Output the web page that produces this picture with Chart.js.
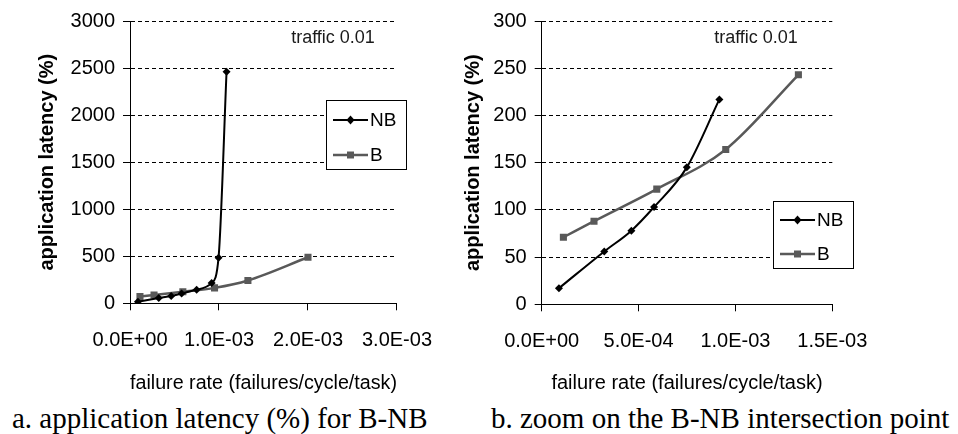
<!DOCTYPE html>
<html>
<head>
<meta charset="utf-8">
<script src="https://cdn.jsdelivr.net/npm/chart.js@4.4.1/dist/chart.umd.min.js"></script>
<style>
  body { margin: 0; background: #fff; width: 958px; height: 434px; overflow: hidden; position: relative; }
  canvas { position: absolute; top: 0; }
  #latencyChart { left: 0; }
  #zoomChart { left: 450px; }
  .caption { position: absolute; top: 404px; font: 29px/29px "Liberation Serif", "Times New Roman", serif; color: #000; white-space: nowrap; }
</style>
</head>
<body>
<canvas id="latencyChart" width="450" height="400"></canvas>
<canvas id="zoomChart" width="508" height="400"></canvas>
<div class="caption" style="left:12px">a. application latency (%) for B-NB</div>
<div class="caption" style="left:491px">b. zoom on the B-NB intersection point</div>
<script>
// failure rate (failures/cycle/task) -> application latency (%)
var nbRate = [0.089e-3, 0.323e-3, 0.463e-3, 0.580e-3, 0.749e-3, 0.917e-3, 0.995e-3, 1.085e-3];
var nbLatency = [17, 56, 78, 103, 145, 217, 485, 2460];
var bRate = [0.112e-3, 0.270e-3, 0.594e-3, 0.950e-3, 1.325e-3, 2.0e-3];
var bLatency = [71, 88, 122, 164, 243, 489];

// the zoomed panel only shows the first points of each series
var nbZoomCount = 6;
var bZoomCount = 5;

var latencyTicks = [0, 500, 1000, 1500, 2000, 2500, 3000];
var rateTicks = [0, 1e-3, 2e-3, 3e-3];
var zoomLatencyTicks = [0, 50, 100, 150, 200, 250, 300];
var zoomRateTicks = [0, 5e-4, 1e-3, 1.5e-3];

var seriesNames = ['NB', 'B'];
var noteText = 'traffic 0.01';

Chart.defaults.font.family = '"Liberation Sans", Arial, sans-serif';
Chart.defaults.color = '#000';

function sci(v) {
  if (v === 0) return '0.0E+00';
  var s = v.toExponential(1).split('e');
  var e = parseInt(s[1], 10);
  return s[0] + 'E' + (e < 0 ? '-' : '+') + (Math.abs(e) < 10 ? '0' : '') + Math.abs(e);
}

function points(xs, ys, n) {
  var out = [];
  for (var i = 0; i < n; i++) out.push({x: xs[i], y: ys[i]});
  return out;
}

// legend box + "traffic" note drawn inside the plot
var panelNotes = {
  id: 'panelNotes',
  afterDraw: function(chart, args, o) {
    var ctx = chart.ctx;
    ctx.save();
    ctx.font = '18px "Liberation Sans", Arial, sans-serif';
    ctx.fillStyle = '#1a1a1a';
    ctx.textAlign = 'center';
    ctx.textBaseline = 'middle';
    ctx.fillText(noteText, o.noteX, o.noteY);

    var b = o.box;
    ctx.fillStyle = '#fff';
    ctx.fillRect(b.x, b.y, b.w, b.h);
    ctx.strokeStyle = '#000';
    ctx.lineWidth = 1;
    ctx.strokeRect(b.x + 0.5, b.y + 0.5, b.w, b.h);

    chart.data.datasets.forEach(function(ds, i) {
      var y = b.y + b.rows[i];
      var x1 = b.x + 7, x2 = b.x + 42, xm = (x1 + x2) / 2;
      ctx.strokeStyle = ds.borderColor;
      ctx.lineWidth = ds.borderWidth;
      ctx.beginPath();
      ctx.moveTo(x1, y);
      ctx.lineTo(x2, y);
      ctx.stroke();
      ctx.fillStyle = ds.borderColor;
      ctx.beginPath();
      if (ds.pointStyle === 'rect') {
        ctx.rect(xm - 3.5, y - 3.5, 7, 7);
      } else {
        ctx.moveTo(xm - 4, y);
        ctx.lineTo(xm, y - 4.5);
        ctx.lineTo(xm + 4, y);
        ctx.lineTo(xm, y + 4.5);
        ctx.closePath();
      }
      ctx.fill();
      ctx.fillStyle = '#000';
      ctx.font = '19px "Liberation Sans", Arial, sans-serif';
      ctx.textAlign = 'left';
      ctx.fillText(ds.label, x2 + 2, y + 1);
    });
    ctx.restore();
  }
};

function makeChart(id, nbN, bN, xTicks, yTicks, g) {
  return new Chart(document.getElementById(id), {
    type: 'line',
    data: {
      datasets: [{
        label: seriesNames[0],
        data: points(nbRate, nbLatency, nbN),
        borderColor: '#000',
        backgroundColor: '#000',
        borderWidth: 2,
        pointStyle: 'rectRot',
        pointRadius: 4,
        pointBorderWidth: 0,
        cubicInterpolationMode: 'monotone'
      }, {
        label: seriesNames[1],
        data: points(bRate, bLatency, bN),
        borderColor: '#595959',
        backgroundColor: '#595959',
        borderWidth: 2.5,
        pointStyle: 'rect',
        pointRadius: 5,
        pointBorderWidth: 0,
        cubicInterpolationMode: 'monotone'
      }]
    },
    options: {
      responsive: false,
      animation: false,
      layout: { padding: { left: 0, top: 21, right: g.padRight, bottom: 0 } },
      plugins: {
        legend: { display: false },
        tooltip: { enabled: false },
        panelNotes: g.notes
      },
      scales: {
        x: {
          type: 'linear',
          min: xTicks[0],
          max: xTicks[xTicks.length - 1],
          afterBuildTicks: function(s) { s.ticks = xTicks.map(function(v) { return {value: v}; }); },
          afterFit: function(s) { s.height = g.xHeight; },
          ticks: { font: { size: 20 }, padding: 18, maxRotation: 0, callback: function(v) { return sci(v); } },
          grid: { drawOnChartArea: false, drawTicks: true, tickLength: 7, color: '#000' },
          border: { display: true, color: '#000', width: 1 },
          title: { display: true, text: 'failure rate (failures/cycle/task)', font: { size: 20 }, padding: { top: 0, bottom: 5 } }
        },
        y: {
          min: yTicks[0],
          max: yTicks[yTicks.length - 1],
          afterBuildTicks: function(s) { s.ticks = yTicks.map(function(v) { return {value: v}; }); },
          afterFit: function(s) { s.width = g.yWidth; },
          ticks: { font: { size: 20 }, padding: 8, callback: function(v) { return String(v); } },
          grid: { color: '#000', lineWidth: 1, drawTicks: true, tickLength: 7, tickColor: '#000' },
          border: { display: true, color: '#000', width: 1, dash: [4, 3] },
          title: { display: true, text: 'application latency (%)', font: { size: 20, weight: 'bold' }, padding: { top: g.titlePad, bottom: 0 } }
        }
      }
    },
    plugins: [panelNotes]
  });
}

makeChart('latencyChart', nbRate.length, bRate.length, rateTicks, latencyTicks, {
  padRight: 43, xHeight: 96.7, yWidth: 130, titlePad: 35,
  notes: { noteX: 333, noteY: 38, box: { x: 326, y: 100, w: 80, h: 69, rows: [20, 55] } }
});

makeChart('zoomChart', nbZoomCount, bZoomCount, zoomRateTicks, zoomLatencyTicks, {
  padRight: 125.7, xHeight: 95.7, yWidth: 91.7, titlePad: 11,
  notes: { noteX: 306, noteY: 38, box: { x: 323, y: 201, w: 80, h: 67, rows: [19, 53] } }
});
</script>
</body>
</html>
